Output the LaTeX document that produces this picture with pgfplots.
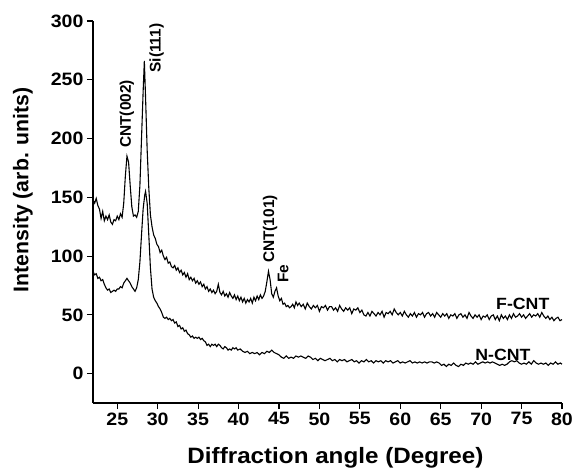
\documentclass[border=0pt]{standalone}
\usepackage{fontspec}
\setmainfont{Liberation Sans}[FakeStretch=1.09]
\newfontfamily\plainfont{Liberation Sans}
\usepackage{pgfplots}
\pgfplotsset{compat=1.18}

\pgfplotstableread{
x y
22.0 148
22.2 145
22.4 149
22.6 143
22.8 140
23.0 132
23.2 138
23.4 130
23.6 134
23.8 131
24.0 135
24.2 129
24.4 127
24.6 131
24.8 130
25.0 134
25.2 131
25.4 136
25.6 133
25.8 145
26.0 168
26.2 185
26.4 180
26.6 160
26.8 142
27.0 134
27.2 135
27.4 133
27.6 138
27.8 160
28.0 200
28.2 240
28.35 266
28.5 235
28.7 190
28.9 158
29.1 135
29.3 125
29.5 118
29.7 115
29.9 110
30.1 108
30.3 103
30.5 105
30.7 100
30.9 97
31.1 99
31.3 94
31.5 95
31.7 91
31.9 90
32.1 92
32.3 88
32.5 90
32.7 86
32.9 88
33.1 84
33.3 86
33.5 82
33.7 85
33.9 80
34.1 82
34.3 79
34.5 81
34.7 77
34.9 79
35.1 76
35.3 78
35.5 74
35.7 76
35.9 72
36.1 74
36.3 70
36.5 72
36.7 69
36.9 71
37.1 68
37.3 70
37.5 76
37.7 69
37.9 67
38.1 70
38.3 66
38.5 68
38.7 65
38.9 69
39.1 66
39.3 64
39.5 67
39.7 63
39.9 66
40.1 62
40.3 65
40.5 61
40.7 64
40.9 60
41.1 63
41.3 61
41.5 64
41.7 60
41.9 65
42.1 62
42.3 66
42.5 63
42.7 67
42.9 64
43.1 66
43.3 70
43.5 78
43.7 87
43.9 80
44.1 68
44.3 65
44.5 70
44.7 73
44.9 66
45.1 62
45.3 64
45.5 59
45.7 60
45.9 57
46.1 58
46.3 56
46.5 57
46.7 59
46.9 56
47.1 61
47.3 58
47.50 60
47.75 57
48.00 59
48.25 55
48.50 60
48.75 57
49.00 55
49.25 58
49.50 56
49.75 58
50.00 53
50.25 57
50.50 56
50.75 58
51.00 54
51.25 57
51.50 57
51.75 54
52.00 56
52.25 53
52.50 58
52.75 55
53.00 53
53.25 56
53.50 54
53.75 56
54.00 51
54.25 55
54.50 54
54.75 56
55.00 52
55.25 54
55.50 50
55.75 49
56.00 52
56.25 49
56.50 53
56.75 51
57.00 49
57.25 52
57.50 50
57.75 53
58.00 48
58.25 52
58.50 51
58.75 53
59.00 50
59.25 55
59.50 52
59.75 50
60.00 52
60.25 49
60.50 53
60.75 50
61.00 48
61.25 51
61.50 49
61.75 52
62.00 48
62.25 51
62.50 50
62.75 52
63.00 48
63.25 51
63.50 52
63.75 49
64.00 51
64.25 48
64.50 52
64.75 50
65.00 48
65.25 51
65.50 49
65.75 51
66.00 47
66.25 50
66.50 49
66.75 51
67.00 47
67.25 50
67.50 51
67.75 48
68.00 50
68.25 47
68.50 52
68.75 49
69.00 47
69.25 50
69.50 48
69.75 50
70.00 46
70.25 49
70.50 48
70.75 50
71.00 46
71.25 49
71.50 50
71.75 46
72.00 49
72.25 45
72.50 50
72.75 47
73.00 49
73.25 46
73.50 50
73.75 47
74.00 51
74.25 48
74.50 49
74.75 51
75.00 48
75.25 50
75.50 47
75.75 49
76.00 51
76.25 48
76.50 50
76.75 49
77.00 51
77.25 48
77.50 52
77.75 49
78.00 47
78.25 49
78.50 46
78.75 48
79.00 45
79.25 47
79.50 48
79.75 45
80.00 46
}\fcnt

\pgfplotstableread{
x y
22.0 87
22.2 84
22.4 85
22.6 81
22.8 82
23.0 79
23.2 80
23.4 76
23.6 73
23.8 71
24.0 72
24.2 69
24.4 70
24.6 71
24.8 70
25.0 72
25.2 72
25.4 74
25.6 73
25.8 77
26.0 79
26.2 81
26.4 79
26.6 77
26.8 74
27.0 72
27.2 70
27.4 73
27.6 80
27.8 95
28.0 118
28.2 140
28.4 152
28.5 155
28.7 145
28.9 118
29.1 90
29.3 72
29.5 65
29.7 62
29.9 60
30.1 57
30.3 55
30.5 52
30.7 48
30.9 47
31.1 48
31.3 46
31.5 47
31.7 45
31.9 46
32.1 43
32.3 44
32.5 40
32.7 41
32.9 38
33.1 39
33.3 36
33.5 37
33.7 34
33.9 33
34.1 31
34.3 32
34.5 30
34.7 31
34.9 30
35.1 31
35.3 29
35.5 30
35.7 28
35.9 27
36.1 24
36.3 25
36.5 23
36.7 25
36.9 24
37.1 25
37.3 23
37.5 25
37.7 24
37.9 22
38.1 21
38.3 23
38.5 22
38.7 20
38.9 21
39.1 20
39.3 22
39.5 21
39.7 22
39.9 20
40.2 21
40.5 19
40.8 18
41.1 19
41.4 17
41.7 18
42.0 17
42.3 18
42.6 16
42.9 18
43.2 17
43.5 19
43.8 18
44.1 20
44.4 18
44.7 17
45.0 16
45.3 14
45.6 13
45.9 15
46.2 13
46.5 14
46.8 13
47.1 15
47.4 14
47.7 15
48.0 14
48.3 13
48.6 15
48.9 14
49.2 12
49.5 13
49.8 11
50.1 13
50.4 12
50.7 11
51.0 12
51.3 13
51.6 11
51.9 12
52.2 10
52.5 12
52.8 11
53.1 12
53.4 10
53.7 11
54.0 12
54.3 10
54.6 11
54.9 9
55.2 11
55.5 10
55.8 12
56.1 10
56.4 11
56.7 9
57.0 11
57.3 10
57.6 11
57.9 9
58.2 11
58.5 10
58.8 11
59.1 9
59.4 10
59.7 11
60.0 9
60.3 10
60.6 9
60.9 10
61.2 11
61.5 9
61.8 10
62.1 9
62.4 10
62.7 9
63.0 10
63.3 9
63.6 10
63.9 10
64.2 9
64.5 10
64.8 9
65.1 7
65.4 8
65.7 6
66.0 8
66.3 7
66.6 9
66.9 7
67.2 6
67.5 8
67.8 7
68.1 9
68.4 8
68.7 9
69.0 8
69.3 10
69.6 8
69.9 9
70.2 10
70.5 9
70.8 10
71.1 9
71.4 10
71.7 9
72.0 8
72.3 7
72.6 8
72.9 7
73.2 8
73.5 10
73.8 11
74.1 10
74.4 11
74.7 9
75.0 8
75.3 9
75.6 8
75.9 10
76.2 8
76.5 11
76.8 9
77.1 8
77.4 9
77.7 8
78.0 9
78.3 7
78.6 9
78.9 8
79.2 10
79.5 8
79.8 9
80.0 8
}\ncnt

\begin{document}
\begin{tikzpicture}
\useasboundingbox (-93bp,-66bp) rectangle (481bp,403bp);
\begin{axis}[
    scale only axis,
    width=469bp, height=382bp,
    xmin=22, xmax=80, ymin=-25, ymax=300,
    axis lines=left,
    axis line style={-, line width=1.1pt},
    tick align=outside,
    xtick={25,30,...,80},
    ytick={0,50,...,300},
    major tick length=6bp,
    tick style={line width=1.1pt, black},
    /pgf/number format/assume math mode=true,
    xticklabel={\textbf{\pgfmathprintnumber{\tick}}},
    yticklabel={\textbf{\pgfmathprintnumber{\tick}}},
    xticklabel style={font=\bfseries\fontsize{18}{20}\selectfont},
    yticklabel style={font=\bfseries\fontsize{18}{20}\selectfont},
    xlabel={Diffraction angle (Degree)},
    ylabel={Intensity (arb. units)},
    xlabel style={font=\bfseries\fontsize{22.3}{26}\selectfont, inner sep=0pt,
      at={([xshift=8bp,yshift=-44bp]axis description cs:0.5,0)}, anchor=north},
    ylabel style={font=\plainfont\bfseries\fontsize{21.3}{24}\selectfont, inner sep=0pt,
      at={([xshift=-70bp]axis description cs:0,0.558)}, anchor=center},
    clip=false,
  ]
  \addplot[black, line width=1.1pt] table {\fcnt};
  \addplot[black, line width=1.1pt] table {\ncnt};
  \begin{scope}[every node/.style={font=\plainfont\bfseries\fontsize{15.5}{17}\selectfont, inner sep=0pt}]
    \node[rotate=90, anchor=west] at (axis cs:26.2,192) {CNT(002)};
    \node[rotate=90, anchor=west] at (axis cs:29.87,256) {Si(111)};
    \node[rotate=90, anchor=west] at (axis cs:43.9,94) {CNT(101)};
    \node[rotate=90, anchor=west] at (axis cs:45.5,77) {Fe};
  \end{scope}
  \node[font=\bfseries\fontsize{16.3}{19}\selectfont, inner sep=0pt] at (axis cs:75.15,59.5) {F-CNT};
  \node[font=\bfseries\fontsize{16.3}{19}\selectfont, inner sep=0pt] at (axis cs:72.7,16) {N-CNT};
\end{axis}
\end{tikzpicture}
\end{document}
